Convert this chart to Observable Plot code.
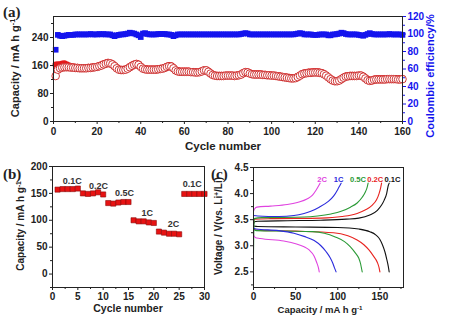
<!DOCTYPE html>
<html><head><meta charset="utf-8">
<script src="https://cdn.jsdelivr.net/npm/d3@7"></script>
<script src="https://cdn.jsdelivr.net/npm/@observablehq/plot@0.6"></script>
<style>
body{margin:0;background:#fff;}
#wrap{position:relative;width:449px;height:324px;overflow:hidden;font-family:"Liberation Sans",Arial,sans-serif;font-weight:bold;color:#222;}
#wrap svg{position:absolute;}
.panel{position:absolute;font-family:"Liberation Serif","Times New Roman",serif;font-weight:bold;font-size:15px;line-height:1;transform:translateY(-50%);}
.t{position:absolute;white-space:nowrap;line-height:1;transform:translate(-50%,-50%);}
.r{transform:translate(-50%,-50%) rotate(-90deg);}
sup{font-size:65%;vertical-align:0.5em;line-height:0;}
</style></head>
<body><div id="wrap"></div>
<script>
// ---------- Panel (a): long-term cycling ----------
const cyclesA = d3.range(1, 161);
const chargeA = [162,163,163,165,166,163,160,158,157,156,
156,155,155,155,155,156,156,157,158,159,
161,163,166,168,170,169,166,161,155,151,
150,150,151,154,158,162,165,167,165,159,
154,152,151,151,151,151,151,152,153,154,
156,159,161,160,155,149,146,145,145,145,
145,145,144,144,143,143,144,146,149,149,
145,140,136,134,133,133,133,133,134,134,
134,134,133,134,135,137,141,144,143,140,
138,137,137,137,137,136,136,135,135,134,
134,133,132,131,130,129,128,127,126,126,
127,130,134,138,140,141,142,142,143,143,
143,142,141,138,134,129,124,120,118,118,
120,124,128,131,132,133,133,133,133,134,
134,131,126,121,119,120,122,123,123,123,
123,123,124,124,124,124,124,123,123,124];
const dischargeA = [130,148,152,154,155,155,155,154,154,153,
153,152,152,152,152,153,153,154,155,156,
158,160,163,165,167,166,163,158,152,148,
147,147,148,151,155,159,162,164,162,156,
151,149,148,148,148,148,148,149,150,151,
153,156,158,157,152,146,143,142,142,142,
142,142,141,141,140,140,141,143,146,146,
142,137,133,131,130,130,130,130,131,131,
131,131,130,131,132,134,138,141,140,137,
135,134,134,134,134,133,133,132,132,131,
131,130,129,128,127,126,125,124,123,123,
124,127,131,135,137,138,139,139,140,140,
140,139,138,135,131,126,121,117,115,115,
117,121,125,128,129,130,130,130,130,131,
131,128,123,118,116,117,119,120,120,120,
120,120,121,121,121,121,121,120,120,121];
const ceA = [82,99,98,97.5,98,98.5,99,99,99,99.5,
99.5,99.5,99.5,99.5,99.5,99.5,100,99.5,99.5,99.5,
100,99.5,100,99.5,99.5,99.5,98.5,97.5,98.5,99,
99.5,99.5,100,100.5,101.5,101,100.5,99.5,98.5,96.5,
100.5,101,100,99.5,99.5,99.5,99.5,100,100,100,
100,99.5,99.5,99,97.5,98.5,99.5,99.5,99.5,99.5,
99.5,99.5,99.5,99.5,99.5,99.5,99.5,99.5,99.5,99.5,
99.5,99.5,99.5,99.5,99.5,99.5,99.5,99.5,99.5,99.5,
99.5,99.5,99.5,99.5,99.5,100,100.5,101,100.5,99.5,
99.5,99.5,99.5,99.5,99.5,99.5,99.5,99.5,99.5,99.5,
99.5,99.5,99.5,99.5,99.5,99.5,99.5,99.5,99.5,99.5,
100,100.5,101,100.5,99.5,99.5,99.5,99.5,99,99,
99,99.5,99.5,99.5,99.5,98.5,98.5,99.5,99.5,100,
100.5,101.5,101,100,99.5,99.5,99.5,99.5,99.5,99,
98.5,98,99,100,101,100,99.5,99.5,99.5,99.5,
99.5,99.5,99.5,100,99.5,99.5,99.5,99.5,99.5,99];
const ticksAx = [0,20,40,60,80,100,120,140,160];
const ticksAy = [0,80,160,240];
const ticksAce = [0,20,40,60,80,100,120];

// ---------- Panel (b): rate capability ----------
const cyclesB = d3.range(1, 31);
const capB = [157,158,158,158,159, 150,149,150,152,148, 132,131,133,134,134,
              100,98,98,96,95, 79,77,75,75,74, 149,149,149,149,149];
const rateLabelsB = ["0.1C","0.2C","0.5C","1C","2C","0.1C"];
const rateLabelXB = [3.9, 9.1, 14.2, 18.7, 23.9, 27.6];
const rateLabelYB = [172, 163, 150, 114, 93, 168];
const ticksBx = [0,5,10,15,20,25,30];
const ticksBy = [0,50,100,150,200];

// ---------- Panel (c): charge/discharge profiles ----------
const ratesC = ["0.1C","0.2C","0.5C","1C","2C"];
const colorsC = ["#111111","#e8231f","#2a9a36","#2b2bdc","#e043e0"];
const chargeC = [
 [[0,3.40],[1,3.46],[5,3.47],[40,3.48],[80,3.49],[110,3.51],[125,3.53],[138,3.59],[147,3.68],[152,3.78],[155,3.87],[158,4.0],[160,4.16],[161,4.2]],
 [[0,3.45],[1,3.51],[20,3.52],[80,3.53],[105,3.56],[123,3.62],[133,3.69],[141,3.78],[146,3.88],[149,4.0],[151,4.12],[152,4.2]],
 [[0,2.85],[0.8,3.52],[10,3.54],[60,3.55],[76,3.57],[92,3.61],[104,3.66],[115,3.74],[123,3.82],[129,3.93],[133,4.04],[135,4.13],[136,4.2]],
 [[0,3.58],[5,3.57],[30,3.56],[48,3.58],[60,3.62],[68,3.66],[78,3.74],[88,3.84],[95,3.95],[100,4.08],[103,4.17],[104,4.2]],
 [[0,3.66],[1,3.70],[4,3.74],[20,3.76],[40,3.79],[52,3.83],[64,3.9],[70,3.97],[74,4.06],[77,4.14],[79,4.2]]
];
const dischargeC = [
 [[0,3.38],[5,3.37],[50,3.36],[100,3.35],[125,3.32],[138,3.27],[145,3.21],[150,3.12],[153,3.02],[156,2.88],[158,2.75],[160,2.6],[161,2.5]],
 [[0,3.33],[3,3.3],[50,3.28],[95,3.25],[112,3.19],[123,3.11],[131,3.02],[137,2.92],[142,2.81],[147,2.68],[149,2.58],[150,2.5]],
 [[0,3.32],[3,3.29],[40,3.28],[70,3.27],[84,3.24],[97,3.17],[108,3.08],[115,2.98],[121,2.86],[125,2.76],[127,2.66],[128,2.58],[129,2.5]],
 [[0,3.34],[3,3.32],[30,3.29],[48,3.24],[60,3.18],[72,3.1],[80,3.0],[86,2.89],[91,2.77],[94,2.67],[96,2.58],[98,2.5]],
 [[0,3.2],[2,3.16],[8,3.14],[36,3.09],[50,3.04],[60,2.98],[66,2.92],[72,2.8],[75,2.68],[77,2.58],[78,2.5]]
];
const labelOrderC = ["2C","1C","0.5C","0.2C","0.1C"];
const labelXC = [81.5, 101, 124, 144.5, 165];
const labelYC = [4.27, 4.27, 4.27, 4.27, 4.27];
const ticksCx = [0,50,100,150];
const ticksCy = [2.5,3.0,3.5,4.0,4.5];

// ------------------------------------------------------------
const wrap = document.getElementById("wrap");
const FONT = '"Liberation Sans", Arial, sans-serif';
const baseStyle = {fontFamily: FONT, fontSize: "10px", fontWeight: "bold", background: "transparent", color: "#222", overflow: "visible"};
const BLUE = "#1414ee";
const CE_K = 2.5; // right axis (0-120 %) shares the left scale (0-300)
const noText = () => "";
const mids = (arr) => arr.slice(1).map((v, i) => (v + arr[i]) / 2);

const rowsA = cyclesA.map((c, i) => ({c, ch: chargeA[i], dis: dischargeA[i], ce: ceA[i]}));
const plotA = Plot.plot({
  width: 449, height: 155, marginLeft: 53, marginRight: 47, marginTop: 16, marginBottom: 34,
  x: {domain: [0, 160]}, y: {domain: [0, 300]},
  style: baseStyle,
  marks: [
    Plot.dot(rowsA, {x: "c", y: "ch", r: 3.2, fill: "#e4191a"}),
    Plot.dot(rowsA, {x: "c", y: "dis", r: 3.8, fill: "white", stroke: "#c92222", strokeWidth: 0.9}),
    Plot.dot(rowsA, {x: "c", y: d => d.ce * CE_K, symbol: "square", r: 3.2, fill: BLUE}),
    Plot.frame({stroke: "#222"}),
    Plot.axisX(ticksAx, {tickSize: 3, tickPadding: 3, label: null}),
    Plot.axisX(mids(ticksAx), {tickSize: 2, tickFormat: noText, label: null}),
    Plot.axisY(ticksAy, {tickSize: 3, tickPadding: 2, label: null}),
    Plot.axisY(mids([...ticksAy, 320]), {tickSize: 2, tickFormat: noText, label: null}),
    Plot.axisY(ticksAce.map(v => v * CE_K), {anchor: "right", tickSize: 3, tickPadding: 2, tickFormat: d => d / CE_K, color: BLUE, label: null}),
    Plot.axisY(mids(ticksAce).map(v => v * CE_K), {anchor: "right", tickSize: 2, tickFormat: noText, color: BLUE, label: null})
  ]
});
plotA.style.left = "0px"; plotA.style.top = "0px";
wrap.appendChild(plotA);

const rowsB = cyclesB.map((c, i) => ({c, cap: capB[i]}));
const lblB = rateLabelsB.map((t, i) => ({t, x: rateLabelXB[i], y: rateLabelYB[i]}));
const plotB = Plot.plot({
  width: 224, height: 164, marginLeft: 52, marginRight: 20, marginTop: 6, marginBottom: 37,
  x: {domain: [0, 30]}, y: {domain: [-25, 200]},
  style: baseStyle,
  marks: [
    Plot.dot(rowsB, {x: "c", y: "cap", symbol: "square", r: 2.9, fill: "#e81212", stroke: "#8a0a0a", strokeWidth: 0.6}),
    Plot.text(lblB, {x: "x", y: "y", text: "t", fontSize: 9, fontWeight: "bold", fill: "#333"}),
    Plot.frame({stroke: "#222"}),
    Plot.axisX(ticksBx, {tickSize: 3, tickPadding: 2, label: null}),
    Plot.axisX(mids(ticksBx), {tickSize: 2, tickFormat: noText, label: null}),
    Plot.axisY(ticksBy, {tickSize: 3, tickPadding: 2, label: null}),
    Plot.axisY([-25, ...mids(ticksBy)], {tickSize: 2, tickFormat: noText, label: null})
  ]
});
plotB.style.left = "0px"; plotB.style.top = "160px";
wrap.appendChild(plotB);

const linesC = [];
ratesC.forEach((r, k) => {
  const ch = chargeC[k].map(([x, y]) => ({x, y}));
  const dis = dischargeC[k].map(([x, y]) => ({x, y}));
  linesC.push(Plot.line(ch, {x: "x", y: "y", stroke: colorsC[k], strokeWidth: 1.1, curve: "monotone-x"}));
  linesC.push(Plot.line(dis, {x: "x", y: "y", stroke: colorsC[k], strokeWidth: 1.1, curve: "monotone-x"}));
});
const lblC = labelOrderC.map((t, i) => ({t, x: labelXC[i], y: labelYC[i], color: colorsC[ratesC.indexOf(t)]}));
const plotC = Plot.plot({
  width: 244, height: 164, marginLeft: 48, marginRight: 46, marginTop: 7, marginBottom: 37,
  x: {domain: [0, 178]}, y: {domain: [2.2, 4.5]},
  style: baseStyle,
  marks: [
    ...linesC,
    Plot.text(lblC, {x: "x", y: "y", text: "t", fill: d => d.color, fontSize: 7.6, fontWeight: "bold"}),
    Plot.frame({stroke: "#222"}),
    Plot.axisX(ticksCx, {tickSize: 3, tickPadding: 2, label: null}),
    Plot.axisX([25, 75, 125, 175], {tickSize: 2, tickFormat: noText, label: null}),
    Plot.axisY(ticksCy, {tickSize: 3, tickPadding: 2, tickFormat: d3.format(".1f"), label: null}),
    Plot.axisY([2.25, ...mids(ticksCy)], {tickSize: 2, tickFormat: noText, label: null})
  ]
});
plotC.style.left = "205px"; plotC.style.top = "160px";
wrap.appendChild(plotC);

// ---------- titles & panel tags (real text) ----------
function addText(html, cls, x, y, size, extra) {
  const el = document.createElement("div");
  el.className = cls;
  el.innerHTML = html;
  el.style.left = x + "px"; el.style.top = y + "px";
  if (size) el.style.fontSize = size + "px";
  if (extra) Object.assign(el.style, extra);
  wrap.appendChild(el);
}
addText("(a)", "panel", 3, 12);
addText("(b)", "panel", 3, 174);
addText("(c)", "panel", 211, 174);
addText("Capacity / mA h g<sup>-1</sup>", "t r", 15, 68, 11);
addText("Coulombic efficiency/%", "t r", 430, 76, 11, {color: BLUE});
addText("Cycle number", "t", 223, 147, 11.5);
addText("Capacity / mA h g<sup>-1</sup>", "t r", 21, 226, 10);
addText("Cycle number", "t", 128, 308, 10.5);
addText("Voltage / V(vs. Li<sup>+</sup>/Li)", "t r", 219, 226, 10);
addText("Capacity / mA h g<sup>-1</sup>", "t", 320, 310, 9.5);
</script>
</body></html>
